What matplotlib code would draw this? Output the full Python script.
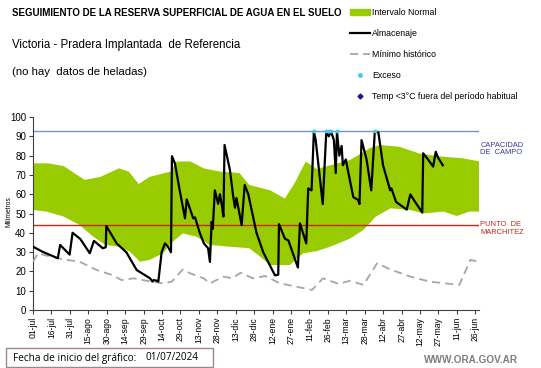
import matplotlib.pyplot as plt
from matplotlib.patches import Patch, Rectangle
from matplotlib.lines import Line2D

plt.rcParams['font.family'] = ['Liberation Sans', 'DejaVu Sans']

# days counted from 01/07/2024
tick_days = list(range(0, 361, 15))
tick_labels = ['01-jul', '16-jul', '31-jul', '15-ago', '30-ago', '14-sep', '29-sep',
               '14-oct', '29-oct', '13-nov', '28-nov', '13-dic', '28-dic', '12-ene',
               '27-ene', '11-feb', '26-feb', '13-mar', '28-mar', '12-abr', '27-abr',
               '12-may', '27-may', '11-jun', '26-jun']

# intervalo normal - upper edge
upper_days = [0, 12, 25, 42, 55, 70, 78, 86, 95, 112, 117, 128, 139, 152, 168, 176,
              193, 205, 213, 222, 231, 242, 258, 274, 282, 298, 315, 334, 350, 363]
upper_vals = [76, 76, 74.6, 67.4, 69, 73.4, 71.7, 65.3, 69, 71.7, 76.9, 77, 73.4, 71.7,
              71, 64.8, 62, 57.8, 65.8, 76.9, 73, 75, 77.7, 83.8, 85.5, 84.6, 81, 79.4,
              78.6, 77]
# intervalo normal - lower edge
lower_days = [0, 11, 25, 38, 49, 59, 70, 79, 87, 95, 106, 112, 122, 133, 144, 160,
              176, 185, 193, 209, 220, 231, 242, 258, 269, 279, 291, 307, 318, 334,
              345, 355, 363]
lower_vals = [51.8, 51, 48.4, 44, 38, 33.7, 32.8, 30.2, 25, 26, 29.4, 34.5, 39.7, 38,
              33.7, 32.8, 32, 27.6, 23.3, 23.3, 29.4, 30.5, 32.8, 37, 41.5, 48.4, 52.7,
              51.8, 50, 51, 48.7, 51, 51]

# minimo historico
min_days = [0, 4, 12, 25, 38, 52, 65, 72, 82, 92, 106, 113, 119, 122, 128, 139, 144,
            155, 162, 169, 179, 189, 201, 215, 227, 236, 249, 258, 269, 280, 291, 307,
            323, 347, 356, 363]
min_vals = [25, 29.4, 28, 26.2, 25, 20.7, 18, 15.5, 16.4, 15.2, 13.8, 14.7, 19, 21, 19,
            16.4, 13.8, 17.3, 16.4, 19.3, 16.4, 17.6, 13.8, 12, 10.4, 16.4, 13.5, 15.2,
            13, 24.2, 21, 17.3, 14.7, 13, 26, 25]

# almacenaje
alm_days = [0, 7.7, 20.2, 22.1, 29.8, 32.2, 38.5, 46.2, 49.6, 56.8, 59.2, 59.7, 68.1,
            76, 84.4, 95.3, 97.2, 98.2, 100.6, 102, 104.7, 107.4, 109.7, 112.3, 113.1,
            115.5, 119.4, 123.7, 125.1, 128, 130.4, 131.9, 135.7, 139.1, 142.5, 144,
            145.4, 146.3, 148, 150.7, 152.1, 153.5, 155, 155.9, 160.3, 162.7, 164.4,
            165.6, 168, 169.8, 172.3, 175.2, 181.9, 187.4, 196.9, 199.6, 200.2, 205,
            207.9, 215.6, 217.3, 222.4, 224, 226.7, 228.6, 230.1, 235.8, 238.7, 240.7,
            242.6, 244.9, 246.4, 247.4, 249.3, 251.2, 252.2, 254.6, 256.1, 260.7, 264.7,
            265.7, 267.4, 271.5, 275.3, 278.2, 281.1, 284.9, 290.7, 291.7, 295.5, 304.2,
            307.1, 310, 316.8, 317.6, 321.5, 325.7, 327.8, 329.6, 333.5]
alm_vals = [32.8, 30.2, 26.8, 33.7, 28.7, 40, 36.8, 29.4, 35.8, 32, 32.5, 43.5, 34.5,
            29.9, 20.7, 16.4, 14.7, 15.5, 15.2, 14.7, 30, 34.5, 33, 29.9, 79.7, 76, 62,
            47.5, 57.3, 52, 47.5, 48, 40, 34.5, 32, 24.9, 45.7, 42, 62, 55, 60, 55, 48.4,
            85.5, 72.5, 60, 53, 58, 50, 44, 64.8, 60, 40, 29.9, 18, 18.3, 44.5, 37, 36,
            22, 44.9, 34.5, 63, 62, 92.4, 88, 54.9, 92.4, 90, 92.4, 88, 71, 92.4, 80, 85,
            75, 78, 73, 58.5, 57, 54.9, 88, 78, 62, 92.4, 92, 75, 62, 63, 56, 52, 59.9,
            57, 50.5, 81.2, 78, 74.3, 82, 79, 75]

# exceso
exc_days = [228.6, 238.7, 240.7, 242.6, 247.4, 278.7]
exc_vals = [93, 93, 93, 93, 93, 93]

capacidad = 93
marchitez = 44

fig = plt.figure(figsize=(5.41, 3.68), dpi=100)
ax = fig.add_axes([33 / 541, 1 - 310 / 368, 446 / 541, 193 / 368])

green = '#99CC00'
poly_x = upper_days + lower_days[::-1]
poly_y = upper_vals + lower_vals[::-1]
ax.fill(poly_x, poly_y, color=green, lw=0, zorder=1)

ax.axhline(capacidad, color='#7393cf', lw=1, zorder=2)
ax.axhline(marchitez, color='#c0281e', lw=1, zorder=2)

ax.plot(min_days, min_vals, color='#a6a6a6', lw=1.3, dashes=(4.5, 2.8), zorder=3)
ax.plot(alm_days, alm_vals, color='black', lw=1.6, zorder=4)
ax.scatter(exc_days, exc_vals, s=8, color='#4cc8e6', zorder=5, lw=0)

ax.set_xlim(0, 363)
ax.set_ylim(0, 100)
ax.set_yticks(range(0, 101, 10))
ax.set_xticks(tick_days)
ax.set_xticklabels(tick_labels, rotation=90)
ax.tick_params(axis='both', length=3, width=0.8, color='#404040', pad=2)
ax.tick_params(axis='y', labelsize=7)
ax.tick_params(axis='x', labelsize=6.2)
ax.spines['top'].set_visible(False)
ax.spines['right'].set_visible(False)
ax.spines['left'].set_color('#404040')
ax.spines['bottom'].set_color('#404040')
ax.set_ylabel('Milímetros', fontsize=4.8)
ax.yaxis.set_label_coords(-0.047, 0.51)

ax.text(364, 83.4, 'CAPACIDAD\nDE  CAMPO', fontsize=5.4, color='#3a3aa8',
        va='center', ha='left', linespacing=1.1, clip_on=False)
ax.text(364, 42.1, 'PUNTO  DE\nMARCHITEZ', fontsize=5.4, color='#c0281e',
        va='center', ha='left', linespacing=1.1, clip_on=False)

fig.text(12 / 541, 1 - 13 / 368, 'SEGUIMIENTO DE LA RESERVA SUPERFICIAL DE AGUA EN EL SUELO',
         fontsize=7, fontweight='bold', va='center')
fig.text(12 / 541, 1 - 45 / 368, 'Victoria - Pradera Implantada  de Referencia',
         fontsize=8.3, va='center')
fig.text(12 / 541, 1 - 72 / 368, '(no hay  datos de heladas)', fontsize=8.2, va='center')

handles = [Patch(color=green),
           Line2D([], [], color='black', lw=1.6),
           Line2D([], [], color='#a6a6a6', lw=1.3, dashes=(4.5, 2.8)),
           Line2D([], [], color='#4cc8e6', marker='o', ms=2.5, lw=0),
           Line2D([], [], color='#1a1a8c', marker='D', ms=2.5, lw=0)]
labels = ['Intervalo Normal', 'Almacenaje', 'Mínimo histórico', 'Exceso',
          'Temp <3°C fuera del período habitual']
fig.legend(handles, labels, loc='upper left', bbox_to_anchor=(344 / 541, 1 - 2 / 368),
           frameon=False, fontsize=6.3, handlelength=2.3, handleheight=0.6,
           handletextpad=0.25, labelspacing=1.38, borderpad=0.2)

fig.add_artist(Rectangle((6 / 541, 1 - 367 / 368), 207 / 541, 19 / 368,
                         transform=fig.transFigure, fill=False, ec='#9a8888', lw=1))
fig.text(13 / 541, 1 - 358 / 368, 'Fecha de inicio del gráfico:', fontsize=7.2,
         va='center', family=['Open Sans', 'DejaVu Sans'])
fig.text(145 / 541, 1 - 358 / 368, '01/07/2024', fontsize=7.2,
         va='center', family=['Open Sans', 'DejaVu Sans'])
fig.text(518 / 541, 1 - 360 / 368, 'WWW.ORA.GOV.AR', fontsize=7.2, fontweight='bold',
         color='#7f7f7f', ha='right', va='center')

plt.savefig('out.png', dpi=100)
